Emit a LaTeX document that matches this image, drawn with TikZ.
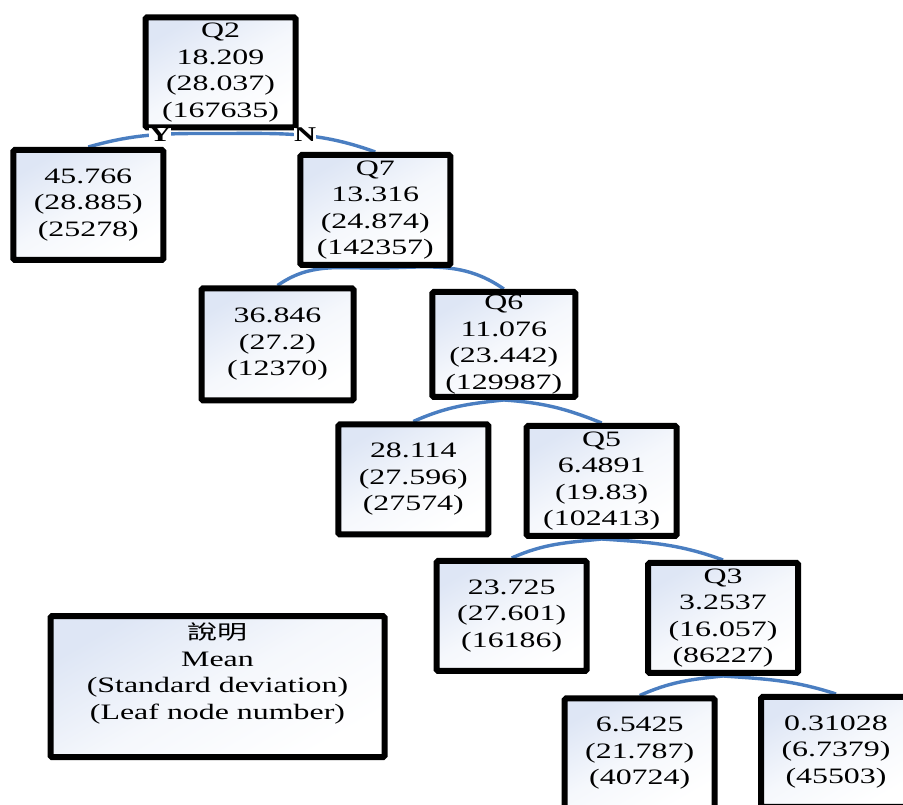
\documentclass[tikz,border=0pt]{standalone}
\usepackage{fontspec}
\setmainfont{Liberation Serif}[FakeStretch=1.45]
\newfontfamily\cjk{Noto Sans CJK TC}[FakeStretch=1.5]
\usetikzlibrary{backgrounds}

\definecolor{boxtint}{RGB}{222,230,245}
\definecolor{linkblue}{RGB}{74,126,193}

\tikzset{
  treebox/.style={draw=black, line width=6pt, rounded corners=1.5pt,
    top color=boxtint, bottom color=white, middle color=boxtint!30!white,
    shading angle=30,
    minimum width=150pt, minimum height=110pt, inner sep=0pt,
    align=center, font=\fontsize{22}{26.5}\selectfont},
  link/.style={draw=linkblue, line width=3.4pt},
  answer/.style={fill=white, inner sep=0.4pt, font=\fontsize{21}{21}\selectfont\bfseries},
}

\begin{document}
\begin{tikzpicture}[x=1pt, y=1pt]
\useasboundingbox (0,0) rectangle (903,805);
\clip (0,0) rectangle (903,805);

% tree nodes
\node[treebox] (q2) at (220.5,732.5) {Q2\\18.209\\(28.037)\\(167635)};
\node[treebox] (l1) at (88.3,600) {45.766\\(28.885)\\(25278)};
\node[treebox] (q7) at (375.3,595) {Q7\\13.316\\(24.874)\\(142357)};
\node[treebox, minimum width=152pt, minimum height=112pt] (l2) at (277.5,460.5) {36.846\\(27.2)\\(12370)};
\node[treebox, minimum width=143pt, minimum height=105pt] (q6) at (503.8,460.5) {Q6\\11.076\\(23.442)\\(129987)};
\node[treebox] (l3) at (413.3,325.5) {28.114\\(27.596)\\(27574)};
\node[treebox] (q5) at (601.7,324) {Q5\\6.4891\\(19.83)\\(102413)};
\node[treebox] (l4) at (511.7,189) {23.725\\(27.601)\\(16186)};
\node[treebox] (q3) at (723,187) {Q3\\3.2537\\(16.057)\\(86227)};
\node[treebox] (l5) at (639.7,51.5) {6.5425\\(21.787)\\(40724)};
\node[treebox] (l6) at (836,53) {0.31028\\(6.7379)\\(45503)};

% legend
\node[treebox, minimum width=334pt, minimum height=141pt] (legend) at (217.5,118.3) {};
\node[align=center, font=\fontsize{22}{26.5}\selectfont] (legendtext) at (217.5,131.5)
  {{\cjk\fontsize{20}{26.5}\selectfont 說明}\\Mean\\(Standard deviation)\\(Leaf node number)};

% split connectors, drawn behind the boxes
\begin{scope}[on background layer]
\draw[link] (l1.north) to[out=16,in=180] ([yshift=-3pt]q2.south)
  to[out=0,in=160] (q7.north);
\draw[link] (l2.north) to[out=35,in=180] (q7.south)
  to[out=0,in=145] (q6.north);
\draw[link] (l3.north) to[out=24,in=186] (q6.south)
  to[out=-4,in=158] (q5.north);
\draw[link] (l4.north) to[out=24,in=186] (q5.south)
  to[out=-4,in=160] (q3.north);
\draw[link] (l5.north) to[out=24,in=186] (q3.south)
  to[out=-4,in=162] (l6.north);
\end{scope}

% branch answers
\node[answer] (yes) at (160,670) {Y};
\node[answer] (no) at (305,670) {N};
\end{tikzpicture}
\end{document}
